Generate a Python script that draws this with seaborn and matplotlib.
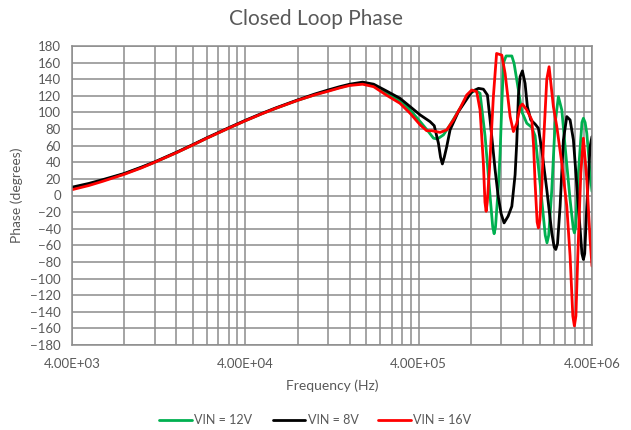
import numpy as np
import pandas as pd
import matplotlib
matplotlib.use("Agg")
import matplotlib.pyplot as plt
import matplotlib.ticker as mticker
import seaborn as sns

# values (Hz, degrees)
freq_12v = [4e3, 5e3, 6e3, 8e3, 1e4, 1.2e4, 1.6e4, 2e4, 2.4e4, 3.2e4, 4e4, 5e4, 6e4, 8e4, 1e5,
            1.2e5, 1.4e5, 1.6e5, 1.9e5, 2.2e5, 2.6e5, 3.12e5, 3.57e5, 4.08e5, 4.55e5, 4.87e5,
            5.13e5, 5.56e5, 6.07e5, 6.93e5, 7.75e5, 8.46e5, 9.04e5, 9.67e5, 1.033e6, 1.07e6,
            1.09e6, 1.11e6, 1.153e6, 1.18e6, 1.207e6, 1.236e6, 1.278e6, 1.379e6, 1.421e6,
            1.505e6, 1.574e6, 1.682e6, 1.798e6, 1.878e6, 2.007e6, 2.15e6, 2.2e6, 2.25e6,
            2.345e6, 2.45e6, 2.56e6, 2.678e6, 2.798e6, 2.99e6, 3.12e6, 3.166e6, 3.22e6,
            3.338e6, 3.5e6, 3.568e6, 3.65e6, 3.733e6, 3.9e6, 4.0e6]
phase_12v = [8, 13, 18, 26, 33.5, 40, 51.5, 61, 69, 81, 90, 98.5, 105, 114.5, 121,
             126, 130, 133, 135.5, 132.5, 124, 114, 103, 89, 77, 69,
             68, 73, 85, 105, 121, 127, 123, 71, -1, -38,
             -46, -38, 11, 51, 110, 160, 168, 168, 159,
             127, 101, 87, 82, 72, 15, -48, -57, -48,
             7, 87, 119, 103, 59, -5, -40, -45, -38,
             27, 88, 93, 88, 75, 27, 5]

freq_8v = [4e3, 5e3, 6e3, 8e3, 1e4, 1.2e4, 1.6e4, 2e4, 2.4e4, 3.2e4, 4e4, 5e4, 6e4, 8e4, 1e5,
           1.2e5, 1.4e5, 1.6e5, 1.9e5, 2.2e5, 2.6e5, 3.12e5, 3.57e5, 4.08e5, 4.65e5, 4.92e5,
           5.2e5, 5.35e5, 5.48e5, 5.62e5, 5.81e5, 6.07e5, 6.78e5, 7.41e5, 8.1e5, 8.85e5,
           9.45e5, 9.97e5, 1.033e6, 1.104e6, 1.149e6, 1.196e6, 1.244e6, 1.312e6, 1.379e6,
           1.44e6, 1.473e6, 1.505e6, 1.539e6, 1.587e6, 1.644e6, 1.695e6, 1.774e6, 1.878e6,
           1.962e6, 2.053e6, 2.194e6, 2.345e6, 2.42e6, 2.472e6, 2.53e6, 2.618e6, 2.736e6,
           2.862e6, 2.99e6, 3.124e6, 3.338e6, 3.5e6, 3.568e6, 3.63e6, 3.733e6, 3.9e6, 4.0e6]
phase_8v = [10, 14.5, 19, 26.5, 34, 40.5, 52, 61.5, 69.5, 81.5, 90.5, 99, 105.5, 115, 122,
            127, 131, 134, 136.5, 134, 126, 117, 107, 97, 89, 84,
            63, 46, 38, 46, 59, 79, 101, 113, 125, 129,
            128, 121, 91, 31, 0, -22, -33, -25, -13,
            25, 65, 120, 143, 150, 135, 107, 91, 86,
            81, 55, 7, -45, -62, -65, -58, -13, 67,
            95, 91, 67, -13, -70, -77, -70, -13, 59, 71]

freq_16v = [4e3, 5e3, 6e3, 8e3, 1e4, 1.2e4, 1.6e4, 2e4, 2.4e4, 3.2e4, 4e4, 5e4, 6e4, 8e4, 1e5,
            1.2e5, 1.4e5, 1.6e5, 1.9e5, 2.2e5, 2.6e5, 3.12e5, 3.57e5, 4.08e5, 4.45e5, 4.76e5,
            5.32e5, 5.81e5, 6.35e5, 6.93e5, 7.57e5, 8.1e5, 8.65e5, 9.04e5, 9.45e5, 9.65e5,
            9.8e5, 9.95e5, 1.024e6, 1.079e6, 1.126e6, 1.207e6, 1.261e6, 1.348e6, 1.408e6,
            1.473e6, 1.539e6, 1.587e6, 1.682e6, 1.798e6, 1.841e6, 1.878e6, 1.93e6, 1.962e6,
            2.0e6, 2.053e6, 2.097e6, 2.194e6, 2.262e6, 2.395e6, 2.506e6, 2.678e6, 2.862e6,
            2.99e6, 3.1e6, 3.166e6, 3.23e6, 3.312e6, 3.447e6, 3.568e6, 3.733e6, 3.9e6, 4.0e6]
phase_16v = [7, 12, 17, 25.5, 33, 40, 51.5, 61, 69, 81, 90, 98.5, 105, 114.5, 121,
             125.5, 129.5, 132.5, 134, 131, 121, 111, 99, 85, 78, 78,
             76, 79, 91, 105, 121, 127, 125, 103, 39, -8,
             -19, -8, 31, 119, 171, 169, 147, 95, 77,
             87, 107, 110, 103, 91, 60, 15, -32, -39,
             -30, 10, 60, 140, 155, 107, 83, 39, -13,
             -73, -145, -157, -145, -73, 27, 69, 19, -53, -85]

series_labels = ["VIN = 12V", "VIN = 8V", "VIN = 16V"]
colors = ["#00B050", "#000000", "#FF0000"]

df = pd.concat([
    pd.DataFrame({"freq": freq_12v, "phase": phase_12v, "series": series_labels[0]}),
    pd.DataFrame({"freq": freq_8v, "phase": phase_8v, "series": series_labels[1]}),
    pd.DataFrame({"freq": freq_16v, "phase": phase_16v, "series": series_labels[2]}),
], ignore_index=True)

sns.set_style("white")
plt.rcParams["font.family"] = ["Lato", "DejaVu Sans"]
text_gray = "#595959"
grid_gray = "#8C8C8C"

fig = plt.figure(figsize=(6.31, 4.30), dpi=100)
ax = fig.add_axes([72 / 631, 1 - 345 / 430, 520 / 631, 299 / 430])

sns.lineplot(data=df, x="freq", y="phase", hue="series", hue_order=series_labels,
             palette=colors, estimator=None, sort=False, linewidth=2, ax=ax)

ax.set_xscale("log")
ax.set_xlim(4e3, 4e6)
ax.set_ylim(-180, 180)
ax.xaxis.set_major_locator(mticker.FixedLocator([4e3, 4e4, 4e5, 4e6]))
ax.xaxis.set_minor_locator(mticker.FixedLocator(
    [k * 4 * 10 ** e for e in range(3, 6) for k in range(2, 10)]))
ax.xaxis.set_major_formatter(mticker.FuncFormatter(lambda v, p: f"{v:.2E}"))
ax.xaxis.set_minor_formatter(mticker.NullFormatter())
ax.set_yticks(np.arange(-180, 181, 20))

ax.grid(True, which="both", color=grid_gray, linewidth=1.1)
ax.set_axisbelow(True)
for s in ax.spines.values():
    s.set_color(grid_gray)
    s.set_linewidth(1.1)
ax.tick_params(which="both", length=0, colors=text_gray, labelsize=9.5)
ax.tick_params(axis="x", pad=9)
ax.tick_params(axis="y", pad=8)

ax.set_xlabel("Frequency (Hz)", fontsize=10, color=text_gray, labelpad=7)
ax.set_ylabel("Phase (degrees)", fontsize=10, color=text_gray, labelpad=5)
fig.suptitle("Closed Loop Phase", fontsize=15, color=text_gray, x=0.5, y=0.978)

handles, labels = ax.get_legend_handles_labels()
ax.legend_.remove()
fig.legend(handles, labels, loc="center", bbox_to_anchor=(0.5, 1 - 420 / 430), ncol=3,
           frameon=False, fontsize=9, labelcolor=text_gray, handlelength=2.6,
           handletextpad=0.2, columnspacing=1.6)

plt.savefig("out.png", dpi=100)
